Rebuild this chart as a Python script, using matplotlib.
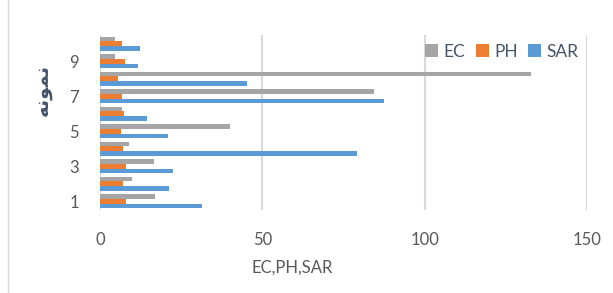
import matplotlib.pyplot as plt
import numpy as np
from matplotlib.lines import Line2D

# values (samples 1..10)
samples = [1, 2, 3, 4, 5, 6, 7, 8, 9, 10]
sar = [31.4, 21.2, 22.5, 79.1, 20.9, 14.5, 87.4, 45.2, 11.6, 12.2]
ph = [8.0, 7.1, 8.0, 7.1, 6.4, 7.3, 6.7, 5.5, 7.7, 6.7]
ec = [16.9, 9.8, 16.6, 8.9, 40.0, 6.8, 84.3, 132.8, 4.6, 4.6]
xticks = [0, 50, 100, 150]
ytick_labels = ["1", "3", "5", "7", "9"]

# "نمونه" in shaped presentation forms (matplotlib does no Arabic shaping)
ylabel_text = "\ufeea\ufee7\ufeee\ufee4\ufee7"

GRAY = "#A5A5A5"
ORANGE = "#ED7D31"
BLUE = "#5B9BD5"
TXT = "#595959"
GRID = "#D9D9D9"

plt.rcParams["font.family"] = ["Lato", "DejaVu Sans"]

fig = plt.figure(figsize=(6.13, 2.93), dpi=100)
ax = fig.add_axes([100 / 613, 1 - 210 / 293, 487 / 613, 175 / 293])

y = np.arange(len(samples))
h = 0.8 / 3
ax.barh(y - h, sar, height=h, color=BLUE, label="SAR")
ax.barh(y, ph, height=h, color=ORANGE, label="PH")
ax.barh(y + h, ec, height=h, color=GRAY, label="EC")

ax.set_xlim(0, 150)
ax.set_ylim(-0.5, len(samples) - 0.5)
ax.set_xticks(xticks)
ax.set_yticks(y[::2])
ax.set_yticklabels(ytick_labels)
ax.tick_params(length=0, labelsize=12, labelcolor=TXT)
ax.tick_params(axis="x", pad=16)
ax.tick_params(axis="y", pad=15)
ax.grid(axis="x", color=GRID, lw=1.5)
ax.set_axisbelow(True)
for s in ax.spines.values():
    s.set_visible(False)

handles, labels = ax.get_legend_handles_labels()
ax.legend(handles[::-1], labels[::-1], ncol=3, loc="upper right",
          bbox_to_anchor=(1.0, 1.0), frameon=False, fontsize=12.5,
          labelcolor="#44546A", handlelength=0.75, handleheight=0.75,
          handletextpad=0.3, columnspacing=0.6, borderaxespad=0.1)

fig.text(292 / 613, 1 - 268 / 293, "EC,PH,SAR", ha="center", va="center",
         fontsize=12, color=TXT)
fig.text(42 / 613, 1 - 90 / 293, ylabel_text, ha="center", va="center",
         rotation=90, fontsize=14, fontweight="bold", color="#44546A",
         family="DejaVu Sans")

fig.add_artist(Line2D([8 / 613, 8 / 613], [0, 1], color=GRID, lw=1))

fig.savefig("out.png", dpi=100)
